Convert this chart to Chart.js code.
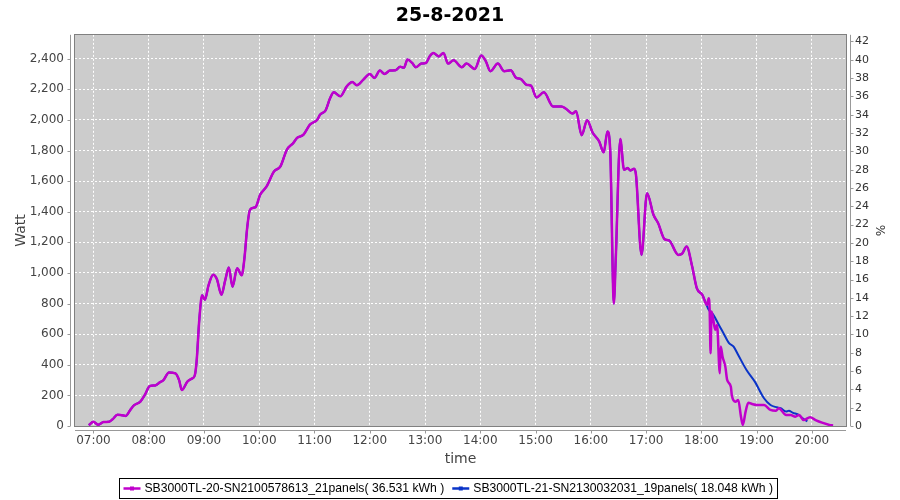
<!DOCTYPE html>
<html><head><meta charset="utf-8">
<script src="https://cdn.jsdelivr.net/npm/chart.js@4/dist/chart.umd.min.js"></script>
<style>html,body{margin:0;padding:0;background:#fff}</style>
</head><body>
<canvas id="c" width="900" height="500"></canvas>
<script>
const chartTitle = '25-8-2021';
const xTitle = 'time';
const yTitle = 'Watt';
const y2Title = '%';
const seriesNames = [
  'SB3000TL-20-SN2100578613_21panels( 36.531 kWh )',
  'SB3000TL-21-SN2130032031_19panels( 18.048 kWh )'
];
const seriesColors = ['#c000cc', '#0a34c8'];

// Series 1 (magenta): time of day and power in W
const timesA = ['06:55','07:00','07:05','07:11','07:17','07:21','07:26','07:31','07:35','07:40','07:44','07:51','07:56','08:01','08:07','08:12','08:16','08:22','08:29','08:33','08:36','08:42','08:47','08:50','08:52','08:55','08:58','09:01','09:05','09:10','09:14','09:19','09:23','09:27','09:31','09:36','09:41','09:44','09:47','09:50','09:56','10:01','10:08','10:16','10:23','10:30','10:37','10:41','10:48','10:55','11:03','11:06','11:12','11:17','11:21','11:28','11:35','11:41','11:46','11:53','12:00','12:05','12:11','12:16','12:22','12:28','12:33','12:37','12:41','12:46','12:50','12:56','13:01','13:05','13:09','13:15','13:20','13:25','13:31','13:40','13:45','13:54','14:01','14:06','14:11','14:19','14:26','14:33','14:39','14:44','14:50','14:55','15:01','15:09','15:19','15:28','15:33','15:40','15:44','15:50','15:56','16:02','16:09','16:14','16:18','16:21','16:25','16:27','16:32','16:36','16:40','16:43','16:47','16:49','16:55','17:01','17:08','17:13','17:20','17:25','17:35','17:39','17:44','17:50','17:55','18:01','18:06','18:08','18:09','18:10','18:11','18:13','18:15','18:17','18:20','18:21','18:23','18:26','18:28','18:32','18:33','18:37','18:40','18:43','18:45','18:48','18:51','18:55','19:01','19:08','19:15','19:21','19:24','19:32','19:37','19:42','19:46','19:51','19:58','20:04','20:11','20:19','20:23'];
const wattsA = [5,28,8,26,28,45,74,70,66,105,135,160,205,260,265,285,300,350,344,300,235,290,310,330,420,700,855,825,920,988,960,858,950,1035,910,1030,985,1100,1300,1413,1430,1511,1565,1663,1696,1805,1849,1882,1903,1969,2001,2034,2062,2143,2180,2154,2219,2248,2226,2263,2300,2274,2322,2300,2322,2324,2348,2340,2394,2372,2344,2368,2372,2415,2437,2415,2437,2368,2389,2344,2368,2333,2420,2383,2318,2368,2318,2324,2274,2267,2230,2224,2147,2180,2088,2088,2073,2041,2056,1900,1997,1916,1860,1788,1925,1805,800,1086,1875,1674,1685,1670,1681,1641,1118,1521,1380,1326,1221,1212,1118,1125,1173,1042,901,857,791,835,759,475,748,693,628,660,345,519,453,388,301,257,203,159,170,61,7,94,152,144,137,137,105,100,116,72,72,61,72,39,57,39,22,7,3];

// Series 2 (blue): identical to series 1 until 18:01, then its own values
const splitTime = '18:01';
const timesBTail = ['18:06','18:08','18:13','18:19','18:24','18:30','18:35','18:40','18:49','18:58','19:08','19:15','19:22','19:26','19:32','19:35','19:39','19:46','19:50','19:55'];
const wattsBTail = [785,759,726,660,606,541,519,464,366,290,181,137,122,116,94,100,87,72,50,30];

// Axis ranges and tick labels
const xMinTime = '06:40';
const xMaxTime = '20:37';
const hourLabels = ['07:00','08:00','09:00','10:00','11:00','12:00','13:00','14:00','15:00','16:00','17:00','18:00','19:00','20:00'];
const yMax = 2556;
const wattTicks = [0,200,400,600,800,1000,1200,1400,1600,1800,2000,2200,2400];
const y2Max = 42.73;
const pctTicks = [0,2,4,6,8,10,12,14,16,18,20,22,24,26,28,30,32,34,36,38,40,42];

const toMin = t => { const [h, m] = t.split(':').map(Number); return h * 60 + m; };
const ptsA = timesA.map((t, i) => ({ x: toMin(t), y: wattsA[i] }));
const ptsB = timesA.map((t, i) => ({ t, x: toMin(t), y: wattsA[i] }))
  .filter(p => p.t <= splitTime).map(p => ({ x: p.x, y: p.y }))
  .concat(timesBTail.map((t, i) => ({ x: toMin(t), y: wattsBTail[i] })));

const FONT = 'DejaVu Sans';

const framePlugin = {
  id: 'frame',
  beforeDraw(chart) {
    const { ctx, chartArea: a } = chart;
    ctx.save();
    ctx.fillStyle = '#cccccc';
    ctx.fillRect(a.left, a.top, a.right - a.left, a.bottom - a.top);
    ctx.restore();
  },
  afterDraw(chart) {
    const { ctx, chartArea: a, scales } = chart;
    ctx.save();
    ctx.strokeStyle = '#808080';
    ctx.lineWidth = 1;
    ctx.strokeRect(Math.round(a.left) - 0.5, Math.round(a.top) - 0.5, Math.round(a.right - a.left) + 1, Math.round(a.bottom - a.top) + 1);
    ctx.strokeStyle = '#999999';
    ctx.beginPath();
    const xL = Math.round(a.left) - 4.5;
    ctx.moveTo(xL, a.top); ctx.lineTo(xL, a.bottom);
    scales.y.ticks.forEach(t => { const p = Math.round(scales.y.getPixelForValue(t.value)) + 0.5; ctx.moveTo(xL - 3, p); ctx.lineTo(xL, p); });
    const xR = Math.round(a.right) + 4.5;
    ctx.moveTo(xR, a.top); ctx.lineTo(xR, a.bottom);
    scales.y2.ticks.forEach(t => { const p = Math.round(scales.y2.getPixelForValue(t.value)) + 0.5; ctx.moveTo(xR, p); ctx.lineTo(xR + 3, p); });
    const yB = Math.round(a.bottom) + 4.5;
    ctx.moveTo(a.left, yB); ctx.lineTo(a.right, yB);
    scales.x.ticks.forEach(t => { const p = Math.round(scales.x.getPixelForValue(t.value)) + 0.5; ctx.moveTo(p, yB); ctx.lineTo(p, yB + 3); });
    ctx.stroke();

    // legend
    const ds = chart.data.datasets;
    ctx.font = '12px "Liberation Sans"';
    const w0 = ctx.measureText(ds[0].label).width;
    const size = 12 * 300 / w0;
    ctx.font = size.toFixed(2) + 'px "Liberation Sans"';
    const marker = 17, gap = 4, pad = 4;
    const widths = ds.map(d => ctx.measureText(d.label).width);
    const total = 2 * pad + widths.reduce((s, w) => s + marker + gap + w, 0) + 2 * gap * (ds.length - 1);
    const cx = 447.5;
    const left = Math.round(cx - total / 2) + 0.5;
    const top = 478.5, h = 20;
    ctx.strokeStyle = '#000';
    ctx.lineWidth = 1;
    ctx.strokeRect(left, top, Math.round(total), h);
    let x = left + pad;
    const my = top + h / 2;
    ds.forEach((d, i) => {
      ctx.strokeStyle = d.borderColor;
      ctx.lineWidth = 2.5;
      ctx.beginPath(); ctx.moveTo(x, my); ctx.lineTo(x + marker, my); ctx.stroke();
      ctx.fillStyle = d.borderColor;
      ctx.fillRect(x + marker / 2 - 2, my - 2, 4, 4);
      x += marker + gap;
      ctx.fillStyle = '#000';
      ctx.textBaseline = 'middle';
      ctx.textAlign = 'left';
      ctx.fillText(d.label, x, my + 0.5);
      x += widths[i] + gap * 2;
    });
    ctx.restore();
  }
};

new Chart(document.getElementById('c'), {
  type: 'line',
  data: {
    datasets: [
      { label: seriesNames[0], data: ptsA, borderColor: seriesColors[0], borderWidth: 2.5, pointRadius: 0, cubicInterpolationMode: 'monotone', yAxisID: 'y' },
      { label: seriesNames[1], data: ptsB, borderColor: seriesColors[1], borderWidth: 2, pointRadius: 0, cubicInterpolationMode: 'monotone', yAxisID: 'y' }
    ]
  },
  plugins: [framePlugin],
  options: {
    responsive: false,
    animation: false,
    devicePixelRatio: 1,
    layout: { padding: { left: 0, right: 0, top: 0, bottom: 28 } },
    plugins: {
      legend: { display: false },
      tooltip: { enabled: false },
      title: { display: true, text: chartTitle, color: '#000', font: { family: FONT, size: 19, weight: 'bold' }, padding: { top: 5, bottom: 7 } }
    },
    scales: {
      x: {
        type: 'linear', position: 'bottom',
        min: toMin(xMinTime), max: toMin(xMaxTime),
        afterBuildTicks: s => { s.ticks = hourLabels.map(l => ({ value: toMin(l) })); },
        afterFit: s => { s.height = 46; },
        ticks: { autoSkip: false, maxRotation: 0, minRotation: 0, padding: 8, color: '#444', font: { family: FONT, size: 12 },
          callback: v => String(Math.floor(v / 60)).padStart(2, '0') + ':' + String(v % 60).padStart(2, '0') },
        grid: { color: '#ffffff', lineWidth: 1, drawTicks: false },
        border: { display: false, dash: [2, 2] },
        title: { display: true, text: xTitle, color: '#444', font: { family: FONT, size: 14 }, padding: { top: 0, bottom: 4 } }
      },
      y: {
        type: 'linear', position: 'left',
        min: 0, max: yMax,
        afterBuildTicks: s => { s.ticks = wattTicks.map(v => ({ value: v })); },
        afterFit: s => { s.width = 75; },
        ticks: { padding: 11, color: '#444', font: { family: FONT, size: 12 },
          callback: v => v.toLocaleString('en-US') },
        grid: { color: '#ffffff', lineWidth: 1, drawTicks: false },
        border: { display: false, dash: [2, 2] },
        title: { display: true, text: yTitle, color: '#444', font: { family: FONT, size: 14 }, padding: { top: 13, bottom: 0 } }
      },
      y2: {
        type: 'linear', position: 'right', display: true,
        min: 0, max: y2Max,
        afterBuildTicks: s => { s.ticks = pctTicks.map(v => ({ value: v })); },
        afterFit: s => { s.width = 54; },
        ticks: { padding: 9, color: '#333', font: { family: FONT, size: 11 } },
        grid: { drawOnChartArea: false, drawTicks: false },
        border: { display: false },
        title: { display: true, text: y2Title, color: '#333', font: { family: FONT, size: 12 }, padding: { top: 14, bottom: 0 } }
      }
    }
  }
});
</script>
</body></html>
